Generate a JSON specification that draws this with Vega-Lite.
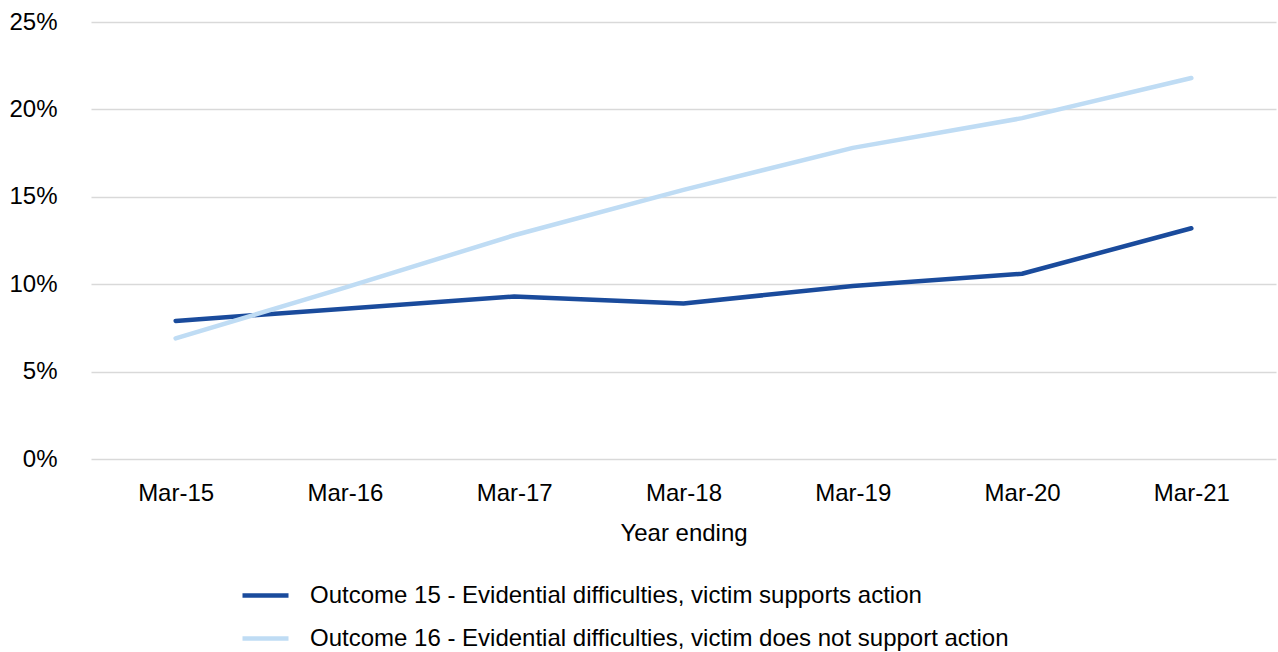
{
  "$schema": "https://vega.github.io/schema/vega-lite/v6.json",
  "width": 1185,
  "height": 437,
  "padding": {"left": 8, "top": 10, "right": 3, "bottom": 0},
  "background": "white",
  "config": {
    "font": "Liberation Sans",
    "view": {"stroke": null},
    "axis": {"labelFontSize": 24, "titleFontSize": 24, "labelColor": "#000000", "titleColor": "#000000", "titleFontWeight": "normal"},
    "legend": {"labelFontSize": 24, "labelColor": "#000000"}
  },
  "data": {
    "values": [
      {"year": "Mar-15", "series": "Outcome 15 - Evidential difficulties, victim supports action", "value": 0.079},
      {"year": "Mar-16", "series": "Outcome 15 - Evidential difficulties, victim supports action", "value": 0.086},
      {"year": "Mar-17", "series": "Outcome 15 - Evidential difficulties, victim supports action", "value": 0.093},
      {"year": "Mar-18", "series": "Outcome 15 - Evidential difficulties, victim supports action", "value": 0.089},
      {"year": "Mar-19", "series": "Outcome 15 - Evidential difficulties, victim supports action", "value": 0.099},
      {"year": "Mar-20", "series": "Outcome 15 - Evidential difficulties, victim supports action", "value": 0.106},
      {"year": "Mar-21", "series": "Outcome 15 - Evidential difficulties, victim supports action", "value": 0.132},
      {"year": "Mar-15", "series": "Outcome 16 - Evidential difficulties, victim does not support action", "value": 0.069},
      {"year": "Mar-16", "series": "Outcome 16 - Evidential difficulties, victim does not support action", "value": 0.098},
      {"year": "Mar-17", "series": "Outcome 16 - Evidential difficulties, victim does not support action", "value": 0.128},
      {"year": "Mar-18", "series": "Outcome 16 - Evidential difficulties, victim does not support action", "value": 0.154},
      {"year": "Mar-19", "series": "Outcome 16 - Evidential difficulties, victim does not support action", "value": 0.178},
      {"year": "Mar-20", "series": "Outcome 16 - Evidential difficulties, victim does not support action", "value": 0.195},
      {"year": "Mar-21", "series": "Outcome 16 - Evidential difficulties, victim does not support action", "value": 0.218}
    ]
  },
  "mark": {"type": "line", "strokeWidth": 4.5, "strokeCap": "round", "strokeJoin": "round"},
  "encoding": {
    "x": {
      "field": "year", "type": "ordinal", "title": "Year ending",
      "axis": {"labelAngle": 0, "domain": false, "ticks": false, "labelPadding": 22, "titlePadding": 16, "grid": false}
    },
    "y": {
      "field": "value", "type": "quantitative", "title": null,
      "scale": {"domain": [0, 0.25]},
      "axis": {"values": [0, 0.05, 0.1, 0.15, 0.2, 0.25], "format": ".0%", "domain": false, "ticks": false, "labelPadding": 34, "gridColor": "#d9d9d9", "gridWidth": 1.5}
    },
    "color": {
      "field": "series", "type": "nominal", "title": null,
      "scale": {"range": ["#1a4b9c", "#bfdcf4"]},
      "legend": {"orient": "none", "legendX": 149, "legendY": 548, "direction": "vertical", "symbolType": "stroke", "symbolSize": 2116, "symbolStrokeWidth": 4.5, "labelOffset": 19, "rowPadding": 5, "labelLimit": 1000}
    }
  }
}
